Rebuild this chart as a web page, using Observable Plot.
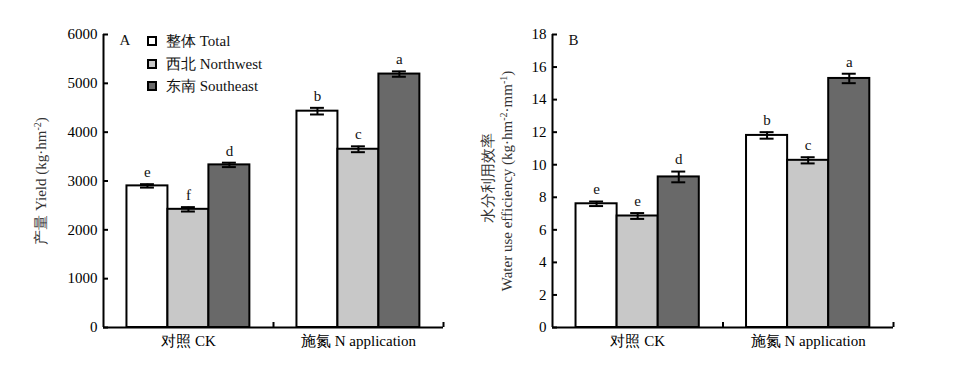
<!DOCTYPE html>
<html>
<head>
<meta charset="utf-8">
<script src="https://cdn.jsdelivr.net/npm/d3@7"></script>
<script src="https://cdn.jsdelivr.net/npm/@observablehq/plot@0.6"></script>
<style>
  body { margin: 0; background: #fff; }
  #wrap { position: relative; width: 980px; height: 366px; font-family: "Liberation Serif", "Times New Roman", serif; font-size: 15px; color: #111; }
  .panel { position: absolute; top: 0; }
  .ylab { position: absolute; white-space: nowrap; transform: translate(-50%, -50%) rotate(-90deg); line-height: 15px; color: #333; }
  .ylab sup { font-size: 10px; vertical-align: 5px; line-height: 0; }
  .leg { position: absolute; left: 147px; display: flex; align-items: center; height: 16px; white-space: nowrap; }
  .leg i { display: inline-block; width: 10px; height: 10px; box-sizing: border-box; border: 2px solid #000; margin-right: 9px; }
</style>
</head>
<body>
<div id="wrap"></div>
<script>
// ---- data ----
const groups = ["对照 CK", "施氮 N application"];
const series = ["整体 Total", "西北 Northwest", "东南 Southeast"];
const seriesColors = ["#ffffff", "#c8c8c8", "#696969"];
// values ordered: CK(Total, Northwest, Southeast), N(Total, Northwest, Southeast)
const yieldMean = [2900, 2420, 3330, 4430, 3650, 5190];
const yieldErr = [35, 45, 45, 68, 60, 55];
const yieldLetters = ["e", "f", "d", "b", "c", "a"];
const yieldTicks = [0, 1000, 2000, 3000, 4000, 5000, 6000];
const wueMean = [7.6, 6.85, 9.25, 11.8, 10.27, 15.3];
const wueErr = [0.14, 0.18, 0.33, 0.2, 0.19, 0.29];
const wueLetters = ["e", "e", "d", "b", "c", "a"];
const wueTicks = [0, 2, 4, 6, 8, 10, 12, 14, 16, 18];

// ---- layout (fractions of a group band) ----
const PAD = 0.138, BW = 0.241, CAP = 0.041;
const FONT = '"Liberation Serif", "Times New Roman", serif';

function buildRows(mean, err, letters) {
  const rows = [];
  groups.forEach((g, gi) => {
    series.forEach((s, si) => {
      const k = gi * series.length + si;
      const x1 = gi + PAD + si * BW;
      rows.push({group: g, series: s, mean: mean[k], err: err[k], letter: letters[k],
        x1, x2: x1 + BW, xc: x1 + BW / 2});
    });
  });
  return rows;
}

function panel({rows, ticks, domain, marginLeft, marginRight, tag}) {
  return Plot.plot({
    width: 460, height: 366,
    marginLeft, marginRight, marginTop: 34, marginBottom: 39,
    style: {fontFamily: FONT, fontSize: "15px", color: "#000", background: "transparent", overflow: "visible"},
    x: {domain: [0, groups.length], ticks: [0.5, 1.5], tickFormat: (d) => groups[Math.floor(d)], tickSize: 0, tickPadding: 8, label: null},
    y: {domain, ticks, tickFormat: (d) => String(d), tickSize: 0, tickPadding: 6, label: null},
    color: {domain: series, range: seriesColors},
    marks: [
      Plot.rectY(rows, {x1: "x1", x2: "x2", y1: 0, y2: "mean", fill: "series", stroke: "#000", strokeWidth: 2}),
      Plot.ruleX(rows, {x: "xc", y1: (d) => d.mean - d.err, y2: (d) => d.mean + d.err, stroke: "#000", strokeWidth: 2}),
      Plot.ruleY(rows, {y: (d) => d.mean + d.err, x1: (d) => d.xc - CAP, x2: (d) => d.xc + CAP, stroke: "#000", strokeWidth: 2}),
      Plot.ruleY(rows, {y: (d) => d.mean - d.err, x1: (d) => d.xc - CAP, x2: (d) => d.xc + CAP, stroke: "#000", strokeWidth: 2}),
      Plot.text(rows, {x: "xc", y: (d) => d.mean + d.err, text: "letter", dy: -12, lineAnchor: "middle", fill: "#111"}),
      Plot.ruleX([0], {stroke: "#000", strokeWidth: 2}),
      Plot.ruleY([0], {stroke: "#000", strokeWidth: 2}),
      Plot.ruleY(ticks, {y: (d) => d, x1: 0, x2: 0, insetRight: -5, stroke: "#000", strokeWidth: 2}),
      Plot.ruleX([1, 2], {x: (d) => d, y1: 0, y2: 0, insetBottom: 5, stroke: "#000", strokeWidth: 2}),
      Plot.text([tag], {text: (d) => d, frameAnchor: "top-left", dx: 16, dy: 0, fill: "#111"})
    ]
  });
}

const wrap = document.getElementById("wrap");

const left = panel({rows: buildRows(yieldMean, yieldErr, yieldLetters), ticks: yieldTicks, domain: [0, 6000], marginLeft: 103, marginRight: 17, tag: "A"});
left.classList.add("panel");
left.style.left = "0px";
wrap.appendChild(left);

const right = panel({rows: buildRows(wueMean, wueErr, wueLetters), ticks: wueTicks, domain: [0, 18], marginLeft: 92, marginRight: 27, tag: "B"});
right.classList.add("panel");
right.style.left = "460px";
wrap.appendChild(right);

// y-axis titles
function addLabel(html, x, y) {
  const d = document.createElement("div");
  d.className = "ylab";
  d.style.left = x + "px";
  d.style.top = y + "px";
  d.innerHTML = html;
  wrap.appendChild(d);
}
addLabel("产量 Yield (kg·hm<sup>-2</sup>)", 41, 181);
addLabel("水分利用效率", 488, 178);
addLabel("Water use efficiency (kg·hm<sup>-2</sup>·mm<sup>-1</sup>)", 507, 181);

// legend
const legendY = [41, 64, 86];
series.forEach((s, i) => {
  const d = document.createElement("div");
  d.className = "leg";
  d.style.top = (legendY[i] - 8) + "px";
  d.innerHTML = `<i style="background:${seriesColors[i]}"></i><span>${s}</span>`;
  wrap.appendChild(d);
});
</script>
</body>
</html>
